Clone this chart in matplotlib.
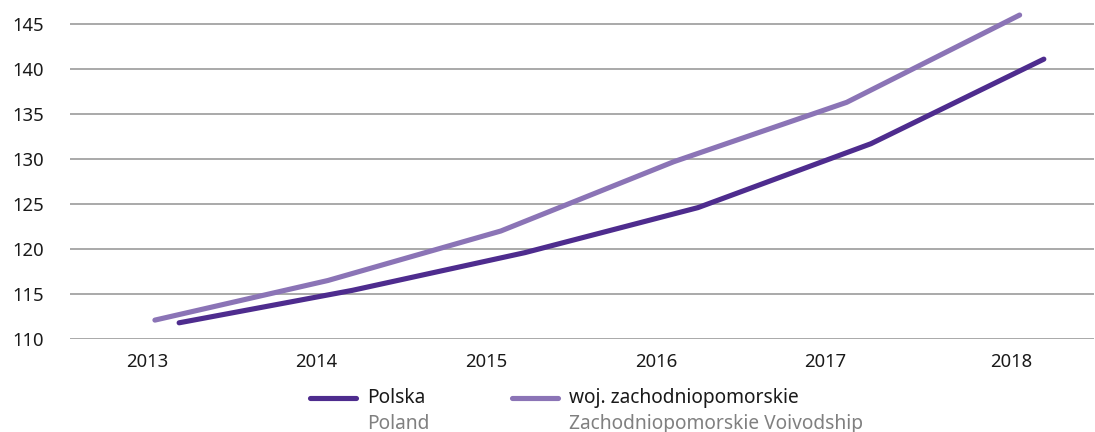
import matplotlib
matplotlib.use("Agg")
import matplotlib.pyplot as plt
from matplotlib.lines import Line2D
import numpy as np

years = ["2013", "2014", "2015", "2016", "2017", "2018"]
polska = [111.8, 115.4, 119.6, 124.6, 131.7, 141.1]
zachodniopomorskie = [112.1, 116.5, 122.0, 129.7, 136.3, 146.0]
y_ticks = [110, 115, 120, 125, 130, 135, 140, 145]

plt.rcParams['font.family'] = ['Noto Sans', 'DejaVu Sans']

W, H = 1095, 432
fig = plt.figure(figsize=(W / 100, H / 100), dpi=100)
ax = fig.add_axes([70 / W, 1 - 339 / H, (1094 - 70) / W, (339 - 10) / H])

c_pol = "#4e2c8e"
c_zach = "#8b74b6"

idx = np.arange(len(years))
ax.plot(idx + 0.14, polska, color=c_pol, lw=3.7, solid_capstyle="round",
        solid_joinstyle="round", zorder=3, clip_on=False)
ax.plot(idx, zachodniopomorskie, color=c_zach, lw=3.7, solid_capstyle="round",
        solid_joinstyle="round", zorder=3, clip_on=False)

ax.set_xlim(-0.491, 5.43)
ax.set_ylim(110, 146.56)
ax.set_yticks(y_ticks)
ax.set_yticklabels([str(v) for v in y_ticks])
tick_pos = [-0.046, 0.931, 1.913, 2.896, 3.873, 4.954]
ax.set_xticks(tick_pos)
ax.set_xticklabels(years)
ax.tick_params(axis="both", length=0, labelsize=13.3, colors="#1a1a1a")
ax.tick_params(axis="y", pad=19)
ax.tick_params(axis="x", pad=10)
ax.grid(axis="y", color="#a3a3a3", lw=1.3, zorder=1)
ax.grid(axis="x", visible=False)
for s in ax.spines.values():
    s.set_visible(False)

# legend
def fx(px):
    return px / W

def fy(py):
    return 1 - py / H

fs = 13.8
fig.add_artist(Line2D([fx(310), fx(356)], [fy(398), fy(398)], color=c_pol, lw=3.7,
                      solid_capstyle="round"))
fig.text(fx(367), fy(398), "Polska", fontsize=fs, color="#1a1a1a", va="center", ha="left")
fig.text(fx(367), fy(424), "Poland", fontsize=fs, color="#808080", va="center", ha="left")
fig.add_artist(Line2D([fx(512), fx(558)], [fy(398), fy(398)], color=c_zach, lw=3.7,
                      solid_capstyle="round"))
fig.text(fx(569), fy(398), "woj. zachodniopomorskie", fontsize=fs, color="#1a1a1a",
         va="center", ha="left")
fig.text(fx(569), fy(424), "Zachodniopomorskie Voivodship", fontsize=fs, color="#808080",
         va="center", ha="left")

fig.savefig("out.png", dpi=100)
